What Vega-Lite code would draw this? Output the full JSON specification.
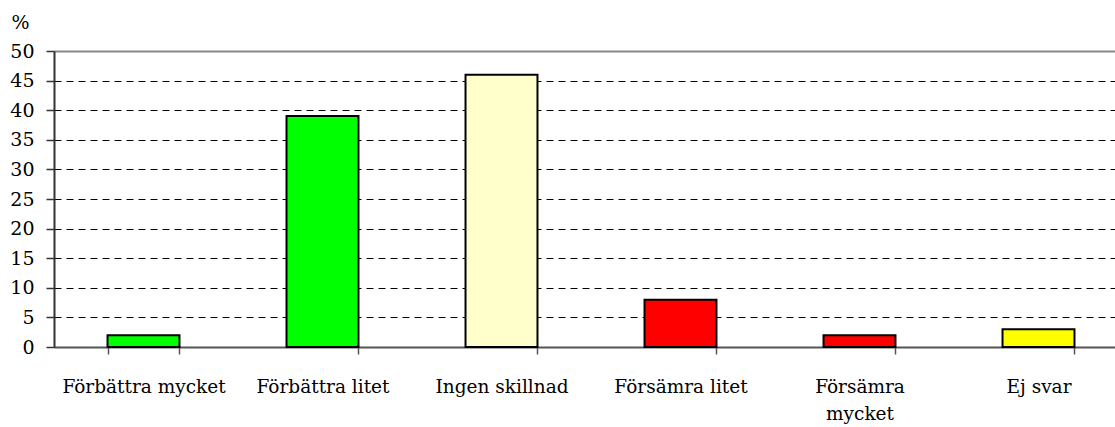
{
  "$schema": "https://vega.github.io/schema/vega-lite/v6.json",
  "autosize": "none",
  "width": 1074,
  "height": 296,
  "padding": {"left": 54, "top": 51, "right": 0, "bottom": 80},
  "background": "white",
  "config": {"view": {"stroke": null}, "font": "DejaVu Serif"},
  "data": {"values": [
    {"category": "Förbättra mycket", "percent": 2, "color": "#00FF00"},
    {"category": "Förbättra litet", "percent": 39, "color": "#00FF00"},
    {"category": "Ingen skillnad", "percent": 46, "color": "#FFFFCC"},
    {"category": "Försämra litet", "percent": 8, "color": "#FF0000"},
    {"category": "Försämra mycket", "percent": 2, "color": "#FF0000"},
    {"category": "Ej svar", "percent": 3, "color": "#FFFF00"}
  ]},
  "mark": {"type": "bar", "stroke": "black", "strokeWidth": 2},
  "encoding": {
    "x": {
      "field": "category", "type": "nominal", "sort": null,
      "scale": {"paddingInner": 0.598, "paddingOuter": 0.299},
      "axis": {
        "title": null, "labelAngle": 0, "labelFont": "DejaVu Serif", "labelFontSize": 18.5,
        "labelColor": "black", "labelPadding": 23, "labelLineHeight": 27,
        "labelExpr": "datum.label == 'Försämra mycket' ? ['Försämra', 'mycket'] : datum.label",
        "tickBand": "extent", "tickSize": 7, "tickColor": "#555", "tickWidth": 1.5,
        "domainColor": "#555", "domainWidth": 2, "grid": false
      }
    },
    "y": {
      "field": "percent", "type": "quantitative",
      "scale": {"domain": [0, 50], "nice": false},
      "axis": {
        "values": [0, 5, 10, 15, 20, 25, 30, 35, 40, 45, 50],
        "title": "%", "titleAngle": 0, "titleX": -34, "titleY": -29, "titleAlign": "center",
        "titleBaseline": "middle", "titleFont": "DejaVu Serif", "titleFontSize": 19, "titleFontWeight": "normal",
        "labelFont": "DejaVu Serif", "labelFontSize": 19, "labelColor": "black", "labelPadding": 12,
        "tickSize": 8, "tickColor": "#333", "tickWidth": 1.5,
        "domainColor": "#333", "domainWidth": 2,
        "grid": true,
        "gridColor": {"condition": {"test": "datum.value == 50", "value": "#888"}, "value": "black"},
        "gridWidth": {"condition": {"test": "datum.value == 50", "value": 2}, "value": 1},
        "gridDash": {"condition": {"test": "datum.value == 50", "value": []}, "value": [7, 5]}
      }
    },
    "fill": {"field": "color", "type": "nominal", "scale": null}
  }
}
